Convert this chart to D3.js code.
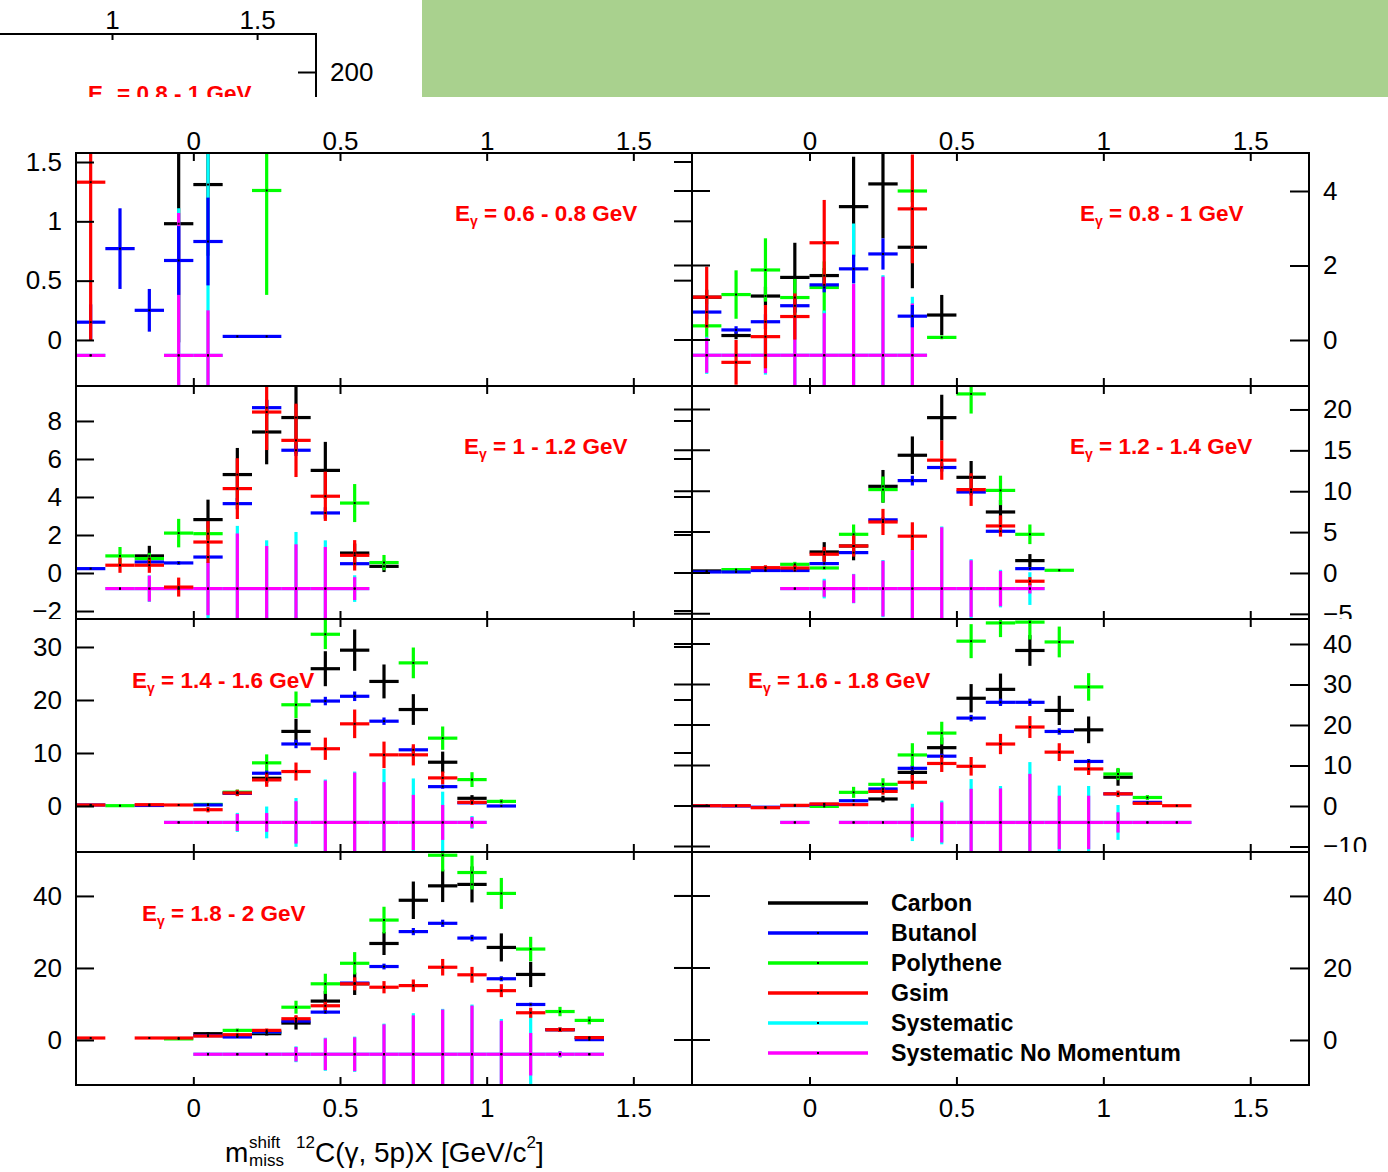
<!DOCTYPE html>
<html><head><meta charset="utf-8">
<script src="https://cdn.jsdelivr.net/npm/d3@7"></script>
<style>body{margin:0;background:#fff}svg{display:block}</style>
</head><body>
<svg id="c" width="1388" height="1172"></svg>
<script>
// ---------------- DATA: [x bin centre, value, error] ----------------
const xTickValues = [0, 0.5, 1, 1.5];
const seriesNames = ["Carbon","Butanol","Polythene","Gsim","Systematic","Systematic No Momentum"];
const energyRanges = ["0.6 - 0.8","0.8 - 1","1 - 1.2","1.2 - 1.4","1.4 - 1.6","1.6 - 1.8","1.8 - 2"];

// Panel 1: 0.6-0.8 GeV
const carbon1 = [[-0.05,0.98,1.0],[0.05,1.31,0.6]];
const butanol1 = [[-0.35,0.15,0.15],[-0.25,0.77,0.34],[-0.15,0.25,0.18],[-0.05,0.67,0.29],[0.05,0.83,0.37],[0.15,0.03,0.01],[0.25,0.03,0.01]];
const polythene1 = [[0.25,1.26,0.88]];
const gsim1 = [[-0.35,1.33,1.33]];
const syst1 = [[-0.35,-0.13,0],[-0.05,-0.13,1.24],[0.05,-0.13,1.9]];
const systNoMom1 = [[-0.35,-0.13,0],[-0.05,-0.13,1.2],[0.05,-0.13,0.38]];

// Panel 2: 0.8-1 GeV
const carbon2 = [[-0.35,1.15,0.2],[-0.25,0.12,0.1],[-0.15,1.18,0.25],[-0.05,1.68,0.93],[0.05,1.73,0.2],[0.15,3.58,1.34],[0.25,4.19,1.46],[0.35,2.49,1.1],[0.45,0.67,0.54]];
const butanol2 = [[-0.35,0.75,0.2],[-0.25,0.27,0.1],[-0.15,0.49,0.2],[-0.05,0.92,0.2],[0.05,1.48,0.2],[0.15,1.91,0.38],[0.25,2.31,0.42],[0.35,0.64,0.3]];
const polythene2 = [[-0.35,0.38,0.3],[-0.25,1.22,0.65],[-0.15,1.88,0.85],[-0.05,1.14,0.5],[0.05,1.41,0.7],[0.35,4.0,0.3],[0.45,0.07,0.05]];
const gsim2 = [[-0.35,1.15,0.82],[-0.25,-0.6,0.6],[-0.15,0.09,0.85],[-0.05,0.63,0.62],[0.05,2.61,1.15],[0.35,3.52,1.46]];
const syst2 = [[-0.35,-0.41,0.5],[-0.25,-0.41,0.05],[-0.15,-0.41,0.52],[-0.05,-0.41,1.1],[0.05,-0.41,1.2],[0.15,-0.41,3.54],[0.25,-0.41,2.15],[0.35,-0.41,1.57]];
const systNoMom2 = [[-0.35,-0.41,0.47],[-0.25,-0.41,0],[-0.15,-0.41,0.48],[-0.05,-0.41,1.0],[0.05,-0.41,1.13],[0.15,-0.41,1.93],[0.25,-0.41,2.11],[0.35,-0.41,1.39]];

// Panel 3: 1-1.2 GeV
const carbon3 = [[-0.15,0.9,0.53],[0.05,2.81,1.05],[0.15,5.18,1.4],[0.25,7.42,1.7],[0.35,8.18,1.9],[0.45,5.4,1.5],[0.55,1.05,0.5],[0.65,0.35,0.3]];
const butanol3 = [[-0.35,0.23,0.05],[-0.15,0.58,0.1],[-0.05,0.53,0.1],[0.05,0.84,0.1],[0.15,3.65,0.3],[0.25,8.7,0.4],[0.35,6.46,0.3],[0.45,3.16,0.3],[0.55,0.49,0.1]];
const polythene3 = [[-0.25,0.9,0.47],[-0.15,0.76,0.3],[-0.05,2.1,0.75],[0.05,2.07,0.3],[0.55,3.68,1.0],[0.65,0.55,0.4]];
const gsim3 = [[-0.25,0.41,0.4],[-0.15,0.41,0.4],[-0.05,-0.74,0.5],[0.05,1.63,1.1],[0.15,4.44,1.6],[0.25,8.47,2.0],[0.35,6.98,1.93],[0.45,4.04,1.3],[0.55,0.93,0.8]];
const syst3 = [[-0.25,-0.82,0],[-0.15,-0.82,0.7],[-0.05,-0.82,0],[0.05,-0.82,1.58],[0.15,-0.82,3.3],[0.25,-0.82,2.54],[0.35,-0.82,2.98],[0.45,-0.82,2.54],[0.55,-0.82,0.7]];
const systNoMom3 = [[-0.25,-0.82,0],[-0.15,-0.82,0.68],[-0.05,-0.82,0],[0.05,-0.82,1.4],[0.15,-0.82,2.9],[0.25,-0.82,2.24],[0.35,-0.82,2.33],[0.45,-0.82,2.19],[0.55,-0.82,0.6]];

// Panel 4: 1.2-1.4 GeV
const carbon4 = [[-0.35,0.25,0.1],[0.05,2.57,1.2],[0.15,3.3,1.75],[0.25,10.6,2.0],[0.35,14.4,2.3],[0.45,19.0,2.8],[0.55,11.7,2.0],[0.65,7.46,1.5],[0.75,1.51,0.8]];
const butanol4 = [[-0.35,0.12,0.05],[-0.25,0.12,0.05],[-0.15,0.3,0.1],[-0.05,0.3,0.1],[0.05,1.15,0.2],[0.15,2.49,0.3],[0.25,6.5,0.3],[0.35,11.3,0.6],[0.45,12.9,0.5],[0.55,9.9,0.4],[0.65,5.1,0.3],[0.75,0.53,0.2]];
const polythene4 = [[-0.25,0.41,0.1],[-0.15,0.33,0.1],[-0.05,1.06,0.3],[0.05,0.61,0.2],[0.15,4.73,1.2],[0.25,10.2,1.6],[0.55,21.9,2.4],[0.65,10.1,1.8],[0.75,4.73,1.2],[0.85,0.33,0.1]];
const gsim4 = [[-0.15,0.65,0.3],[-0.05,0.61,0.4],[0.05,2.29,0.9],[0.15,3.3,1.3],[0.25,6.24,1.6],[0.35,4.5,1.7],[0.45,13.8,2.4],[0.55,10.2,2.0],[0.65,5.75,1.3],[0.75,-1.01,0.5]];
const syst4 = [[-0.05,-1.91,0],[0.05,-1.91,1.2],[0.15,-1.91,1.8],[0.25,-1.91,3.5],[0.35,-1.91,4.8],[0.45,-1.91,7.6],[0.55,-1.91,3.6],[0.65,-1.91,2.3],[0.75,-1.91,2.0]];
const systNoMom4 = [[-0.05,-1.91,0],[0.05,-1.91,1.0],[0.15,-1.91,1.75],[0.25,-1.91,3.4],[0.35,-1.91,4.7],[0.45,-1.91,7.5],[0.55,-1.91,3.46],[0.65,-1.91,2.15],[0.75,-1.91,0.6]];

// Panel 5: 1.4-1.6 GeV
const carbon5 = [[0.15,2.46,0.5],[0.25,5.23,0.9],[0.35,14.07,2.4],[0.45,25.9,3.3],[0.55,29.4,3.9],[0.65,23.5,3.2],[0.75,18.2,2.9],[0.85,8.26,2.0],[0.95,1.45,0.6]];
const butanol5 = [[-0.35,0.19,0.1],[-0.15,0.1,0.1],[0.05,0.2,0.1],[0.15,2.4,0.3],[0.25,6.18,0.5],[0.35,11.7,0.8],[0.45,19.8,0.8],[0.55,20.7,0.9],[0.65,16.0,0.7],[0.75,10.6,0.6],[0.85,3.65,0.4],[0.95,0.6,0.2],[1.05,0.0,0.2]];
const polythene5 = [[-0.25,0.06,0.1],[0.05,0.3,0.2],[0.15,2.6,0.5],[0.25,8.14,1.6],[0.35,19.1,2.5],[0.45,32.4,2.8],[0.75,27.0,2.9],[0.85,12.8,2.2],[0.95,4.98,1.4],[1.05,0.87,0.4]];
const gsim5 = [[-0.35,0.19,0.1],[-0.15,0.25,0.1],[-0.05,0.19,0.1],[0.05,-0.7,0.5],[0.15,2.46,0.6],[0.25,4.92,1.3],[0.35,6.5,1.7],[0.45,10.8,2.1],[0.55,15.5,2.7],[0.65,9.65,2.5],[0.75,9.65,2.0],[0.85,5.3,1.2],[0.95,0.69,0.5]];
const syst5 = [[-0.05,-3.1,0],[0.05,-3.1,0],[0.15,-3.1,1.8],[0.25,-3.1,3.0],[0.35,-3.1,4.6],[0.45,-3.1,8.1],[0.55,-3.1,9.6],[0.65,-3.1,10.1],[0.75,-3.1,8.3],[0.85,-3.1,5.8],[0.95,-3.1,1.2]];
const systNoMom5 = [[-0.05,-3.1,0],[0.05,-3.1,0],[0.15,-3.1,1.6],[0.25,-3.1,1.77],[0.35,-3.1,4.0],[0.45,-3.1,7.9],[0.55,-3.1,9.4],[0.65,-3.1,7.6],[0.75,-3.1,5.2],[0.85,-3.1,3.3],[0.95,-3.1,1.0]];

// Panel 6: 1.6-1.8 GeV
const carbon6 = [[0.25,1.73,0.8],[0.35,8.3,1.8],[0.45,14.4,2.5],[0.55,26.6,3.5],[0.65,28.8,3.9],[0.75,38.4,3.8],[0.85,23.6,3.6],[0.95,18.8,3.3],[1.05,7.1,2.1]];
const butanol6 = [[-0.35,0.07,0.1],[-0.25,0.0,0.1],[-0.15,-0.3,0.1],[-0.05,0.1,0.1],[0.05,0.4,0.1],[0.15,1.3,0.3],[0.25,4.2,0.4],[0.35,9.3,0.5],[0.45,12.3,0.6],[0.55,21.7,0.8],[0.65,25.6,0.9],[0.75,25.6,0.9],[0.85,18.4,0.8],[0.95,11.0,0.6],[1.05,3.0,0.3],[1.15,0.9,0.2]];
const polythene6 = [[0.05,-0.1,0.3],[0.15,3.37,1.36],[0.25,5.35,1.5],[0.35,12.6,2.9],[0.45,18.0,2.8],[0.55,40.7,4.2],[0.65,45.2,3.5],[0.75,45.4,4.3],[0.85,40.5,3.8],[0.95,29.4,3.4],[1.05,7.9,1.5],[1.15,2.1,0.6]];
const gsim6 = [[-0.35,0.07,0.1],[-0.25,0.07,0.1],[-0.15,-0.42,0.2],[-0.05,0.16,0.2],[0.05,0.5,0.3],[0.15,0.33,0.3],[0.25,3.6,0.8],[0.35,5.85,1.8],[0.45,10.5,2.1],[0.55,9.8,2.3],[0.65,15.3,2.5],[0.75,19.5,2.7],[0.85,13.3,2.2],[0.95,9.15,1.5],[1.05,3.0,0.8],[1.15,0.65,0.3],[1.25,0.07,0.1]];
const syst6 = [[-0.05,-4.06,0],[0.15,-4.06,0],[0.25,-4.06,0],[0.35,-4.06,4.6],[0.45,-4.06,5.4],[0.55,-4.06,10.7],[0.65,-4.06,9.0],[0.75,-4.06,14.9],[0.85,-4.06,9.1],[0.95,-4.06,9.0],[1.05,-4.06,4.3],[1.15,-4.06,0],[1.25,-4.06,0]];
const systNoMom6 = [[-0.05,-4.06,0],[0.15,-4.06,0],[0.25,-4.06,0],[0.35,-4.06,3.7],[0.45,-4.06,4.96],[0.55,-4.06,8.3],[0.65,-4.06,8.4],[0.75,-4.06,12],[0.85,-4.06,6.6],[0.95,-4.06,6.6],[1.05,-4.06,2.5],[1.15,-4.06,0],[1.25,-4.06,0]];

// Panel 7: 1.8-2 GeV
const carbon7 = [[0.05,1.75,0.4],[0.15,1.0,0.4],[0.25,1.75,0.5],[0.35,4.7,1.8],[0.45,10.8,2.8],[0.55,15.6,3.1],[0.65,26.8,3.2],[0.75,38.8,5.2],[0.85,42.8,4.5],[0.95,43.2,5.0],[1.05,25.7,3.9],[1.15,18.2,3.5],[1.25,2.86,0.6],[1.35,0.65,0.4]];
const butanol7 = [[0.05,1.2,0.2],[0.15,0.83,0.2],[0.25,2.2,0.3],[0.35,5.25,0.4],[0.45,7.74,0.5],[0.55,15.8,0.7],[0.65,20.4,0.8],[0.75,30.1,1.0],[0.85,32.4,1.0],[0.95,28.3,0.9],[1.05,17.0,0.7],[1.15,9.86,0.5],[1.25,2.86,0.3],[1.35,0.1,0.2]];
const polythene7 = [[-0.05,0.3,0.2],[0.15,2.67,0.5],[0.25,2.2,0.5],[0.35,9.1,1.8],[0.45,15.6,2.8],[0.55,21.3,3.1],[0.65,33.3,3.7],[0.85,51.3,4.5],[0.95,46.5,4.7],[1.05,40.7,4.3],[1.15,25.25,3.4],[1.25,7.9,1.3],[1.35,5.44,1.1]];
const gsim7 = [[-0.35,0.55,0.1],[-0.15,0.55,0.1],[-0.05,0.55,0.1],[0.05,1.1,0.3],[0.15,1.47,0.4],[0.25,2.67,0.5],[0.35,5.9,1.0],[0.45,9.5,1.2],[0.55,15.6,1.8],[0.65,14.65,1.7],[0.75,15.1,1.7],[0.85,20.2,2.3],[0.95,18.1,2.2],[1.05,13.7,1.8],[1.15,7.56,1.4],[1.25,2.86,0.6],[1.35,0.65,0.4]];
const syst7 = [[0.05,-3.96,0.5],[0.15,-3.96,0],[0.25,-3.96,0],[0.35,-3.96,2.2],[0.45,-3.96,4.6],[0.55,-3.96,4.9],[0.65,-3.96,8.5],[0.75,-3.96,11.4],[0.85,-3.96,12.6],[0.95,-3.96,13.8],[1.05,-3.96,9.8],[1.15,-3.96,10.8],[1.25,-3.96,0.9],[1.35,-3.96,0]];
const systNoMom7 = [[0.05,-3.96,0.4],[0.15,-3.96,0],[0.25,-3.96,0],[0.35,-3.96,2.0],[0.45,-3.96,4.4],[0.55,-3.96,4.7],[0.65,-3.96,8.3],[0.75,-3.96,10.8],[0.85,-3.96,12.4],[0.95,-3.96,13.5],[1.05,-3.96,9.3],[1.15,-3.96,5.9],[1.25,-3.96,0.8],[1.35,-3.96,0]];

// y tick values per panel
const yTicks1 = [0,0.5,1,1.5], yTicks2 = [0,2,4];
const yTicks3 = [-2,0,2,4,6,8], yTicks4 = [-5,0,5,10,15,20];
const yTicks5 = [0,10,20,30], yTicks6 = [-10,0,10,20,30,40];
const yTicks7 = [0,20,40], yTicks8 = [0,20,40];

// ---------------- LAYOUT ----------------
const FONT = '"Liberation Sans", Arial, Helvetica, sans-serif';
const colX = [[76,692],[692,1309]];
const rowY = [[153,386],[386,619],[619,852],[852,1085]];
const xDomain = [-0.4, 1.7];
const binHalf = 0.05;
const fmt = d3.format("~g");
const colors = {carbon:"#000000", butanol:"#0000ff", polythene:"#00ff00", gsim:"#ff0000", syst:"#00ffff", systNoMom:"#ff00ff"};
const drawOrder = ["carbon","polythene","syst","systNoMom","butanol","gsim"];

const panels = [
  {col:0,row:0,yDomain:[-0.388,1.576],ticks:yTicks1,label:energyRanges[0],lx:455,ly:221,
   s:{carbon:carbon1,butanol:butanol1,polythene:polythene1,gsim:gsim1,syst:syst1,systNoMom:systNoMom1}},
  {col:1,row:0,yDomain:[-1.235,5.02],ticks:yTicks2,label:energyRanges[1],lx:1080,ly:221,
   s:{carbon:carbon2,butanol:butanol2,polythene:polythene2,gsim:gsim2,syst:syst2,systNoMom:systNoMom2}},
  {col:0,row:1,yDomain:[-2.42,9.84],ticks:yTicks3,label:energyRanges[2],lx:464,ly:454,
   s:{carbon:carbon3,butanol:butanol3,polythene:polythene3,gsim:gsim3,syst:syst3,systNoMom:systNoMom3}},
  {col:1,row:1,yDomain:[-5.63,22.87],ticks:yTicks4,label:energyRanges[3],lx:1070,ly:454,
   s:{carbon:carbon4,butanol:butanol4,polythene:polythene4,gsim:gsim4,syst:syst4,systNoMom:systNoMom4}},
  {col:0,row:2,yDomain:[-8.68,35.28],ticks:yTicks5,label:energyRanges[4],lx:132,ly:688,
   s:{carbon:carbon5,butanol:butanol5,polythene:polythene5,gsim:gsim5,syst:syst5,systNoMom:systNoMom5}},
  {col:1,row:2,yDomain:[-11.36,46.17],ticks:yTicks6,label:energyRanges[5],lx:748,ly:688,
   s:{carbon:carbon6,butanol:butanol6,polythene:polythene6,gsim:gsim6,syst:syst6,systNoMom:systNoMom6}},
  {col:0,row:3,yDomain:[-12.5,52.2],ticks:yTicks7,label:energyRanges[6],lx:142,ly:921,
   s:{carbon:carbon7,butanol:butanol7,polythene:polythene7,gsim:gsim7,syst:syst7,systNoMom:systNoMom7}},
  {col:1,row:3,yDomain:[-12.5,52.2],ticks:yTicks8,label:null,s:{}}
];

const svg = d3.select("#c");
svg.append("rect").attr("width",1388).attr("height",1172).attr("fill","#fff");
const defs = svg.append("defs");

// ---------- clipped fragment strip at the top ----------
defs.append("clipPath").attr("id","stripClip").append("rect").attr("x",0).attr("y",0).attr("width",420).attr("height",97);
const strip = svg.append("g").attr("clip-path","url(#stripClip)");
const sx = d3.scaleLinear().domain([0.614,1.703]).range([0,316]);
const sy = d3.scaleLinear().domain([150,200]).range([110,72]);
const sAxTop = strip.append("g").attr("transform","translate(0,34)")
  .call(d3.axisTop(sx).tickValues([1,1.5]).tickFormat(fmt).tickSizeInner(-6).tickSizeOuter(0).tickPadding(5));
const sAxRight = strip.append("g").attr("transform","translate(316,0)")
  .call(d3.axisRight(sy).tickValues([200]).tickFormat(fmt).tickSizeInner(-18).tickSizeOuter(0).tickPadding(14));
[sAxTop,sAxRight].forEach(a=>{
  a.select(".domain").remove();
  a.selectAll("line").attr("stroke","#000").attr("stroke-width",2);
  a.selectAll("text").attr("font-size",26).attr("font-family",FONT).attr("fill","#000");
});
strip.append("line").attr("x1",0).attr("x2",317).attr("y1",34).attr("y2",34).attr("stroke","#000").attr("stroke-width",2);
strip.append("line").attr("x1",316).attr("x2",316).attr("y1",34).attr("y2",100).attr("stroke","#000").attr("stroke-width",2);
function eLabel(g, x, y, range){
  const t = g.append("text").attr("x",x).attr("y",y).attr("fill","#ff0000")
    .attr("font-family",FONT).attr("font-weight","bold").attr("font-size",22.5);
  t.append("tspan").text("E");
  t.append("tspan").attr("font-size",14).attr("dy",5).text("γ");
  t.append("tspan").attr("dy",-5).text(" = " + range + " GeV");
}
eLabel(strip, 88, 101, energyRanges[1]);
svg.append("rect").attr("x",422).attr("y",0).attr("width",966).attr("height",97).attr("fill","#a9d18e");

// ---------- panels ----------
panels.forEach((p,i)=>{
  const [x0,x1] = colX[p.col];
  const [y0,y1] = rowY[p.row];
  const x = d3.scaleLinear().domain(xDomain).range([x0,x1]);
  const y = d3.scaleLinear().domain(p.yDomain).range([y1,y0]);

  defs.append("clipPath").attr("id","pc"+i).append("rect")
    .attr("x",x0).attr("y",y0).attr("width",x1-x0).attr("height",y1-y0);
  const g = svg.append("g").attr("clip-path",`url(#pc${i})`);

  drawOrder.forEach(k=>{
    const data = p.s[k]; if(!data) return;
    const sg = g.append("g").attr("stroke",colors[k]).attr("stroke-width",3.2);
    sg.selectAll("line.h").data(data).join("line").attr("class","h")
      .attr("x1",d=>x(d[0]-binHalf)).attr("x2",d=>x(d[0]+binHalf))
      .attr("y1",d=>y(d[1])).attr("y2",d=>y(d[1]));
    sg.selectAll("line.v").data(data.filter(d=>d[2]>0)).join("line").attr("class","v")
      .attr("x1",d=>x(d[0])).attr("x2",d=>x(d[0]))
      .attr("y1",d=>y(d[1]-d[2])).attr("y2",d=>y(d[1]+d[2]));
  });
  drawOrder.forEach(k=>{
    const data = p.s[k]; if(!data) return;
    g.append("g").selectAll("rect").data(data).join("rect")
      .attr("x",d=>x(d[0])-1).attr("y",d=>y(d[1])-1).attr("width",2).attr("height",2).attr("fill","#000");
  });

  // frame
  svg.append("rect").attr("x",x0).attr("y",y0).attr("width",x1-x0).attr("height",y1-y0)
    .attr("fill","none").attr("stroke","#000").attr("stroke-width",2);

  // y axis (labels clipped to the row band)
  const rcId = "rc"+i;
  defs.append("clipPath").attr("id",rcId).append("rect")
    .attr("x",0).attr("y",p.row===0?100:y0).attr("width",1388).attr("height",y1-(p.row===0?100:y0));
  const ya = svg.append("g").attr("clip-path",`url(#${rcId})`);
  let ax;
  if(p.col===0){
    ax = ya.append("g").attr("transform",`translate(${x0},0)`)
      .call(d3.axisLeft(y).tickValues(p.ticks).tickFormat(fmt).tickSizeInner(-18).tickSizeOuter(0).tickPadding(14));
    ya.append("g").selectAll("line").data(p.ticks).join("line")
      .attr("x1",x1-18).attr("x2",x1).attr("y1",d=>y(d)).attr("y2",d=>y(d))
      .attr("stroke","#000").attr("stroke-width",2);
  } else {
    ax = ya.append("g").attr("transform",`translate(${x1},0)`)
      .call(d3.axisRight(y).tickValues(p.ticks).tickFormat(fmt).tickSizeInner(-19).tickSizeOuter(0).tickPadding(14));
    ya.append("g").selectAll("line").data(p.ticks).join("line")
      .attr("x1",x0-18).attr("x2",x0+18).attr("y1",d=>y(d)).attr("y2",d=>y(d))
      .attr("stroke","#000").attr("stroke-width",2);
  }
  ax.select(".domain").remove();
  ax.selectAll("line").attr("stroke","#000").attr("stroke-width",2);
  ax.selectAll("text").attr("font-size",26).attr("font-family",FONT).attr("fill","#000");

  // x axes top / bottom
  const top = svg.append("g").attr("transform",`translate(0,${y0})`)
    .call(d3.axisTop(x).tickValues(xTickValues).tickSizeInner(-8).tickSizeOuter(0).tickPadding(3)
      .tickFormat(p.row===0 ? fmt : ""));
  const bot = svg.append("g").attr("transform",`translate(0,${y1})`)
    .call(d3.axisBottom(x).tickValues(xTickValues).tickSizeInner(-8).tickSizeOuter(0).tickPadding(14)
      .tickFormat(p.row===3 ? fmt : ""));
  [top,bot].forEach(a=>{
    a.select(".domain").remove();
    a.selectAll("line").attr("stroke","#000").attr("stroke-width",2);
    a.selectAll("text").attr("font-size",26).attr("font-family",FONT).attr("fill","#000");
  });

  if(p.label) eLabel(svg, p.lx, p.ly, p.label);
});

// ---------- legend ----------
const legKeys = ["carbon","butanol","polythene","gsim","syst","systNoMom"];
const leg = svg.append("g");
legKeys.forEach((k,i)=>{
  const yy = 903 + i*30;
  leg.append("line").attr("x1",768).attr("x2",868).attr("y1",yy).attr("y2",yy)
    .attr("stroke",colors[k]).attr("stroke-width",3.5);
  leg.append("rect").attr("x",817).attr("y",yy-1).attr("width",2).attr("height",2).attr("fill","#000");
  leg.append("text").attr("x",891).attr("y",yy+8).attr("font-family",FONT).attr("font-weight","bold")
    .attr("font-size",23.2).attr("fill","#000").text(seriesNames[i]);
});

// ---------- x axis title ----------
const tt = svg.append("g").attr("font-family",FONT).attr("fill","#000");
tt.append("text").attr("x",225).attr("y",1162).attr("font-size",28).text("m");
tt.append("text").attr("x",249).attr("y",1148).attr("font-size",17).text("shift");
tt.append("text").attr("x",249).attr("y",1166).attr("font-size",17).text("miss");
const t2 = tt.append("text").attr("x",296).attr("y",1162).attr("font-size",28);
t2.append("tspan").attr("font-size",17).attr("y",1148).text("12");
t2.append("tspan").attr("y",1162).text("C(γ, 5p)X [GeV/c");
t2.append("tspan").attr("font-size",17).attr("y",1148).text("2");
t2.append("tspan").attr("y",1162).text("]");
</script></body></html>
